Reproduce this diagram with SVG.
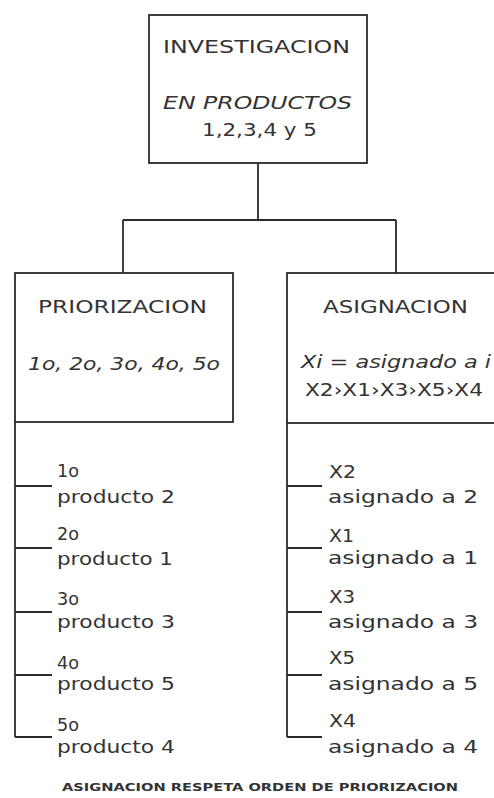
<svg xmlns="http://www.w3.org/2000/svg" width="494" height="798" viewBox="0 0 494 798">
<style>
.ln{fill:none;stroke:#2b2b2b;stroke-width:1.8}
.bx{fill:#fff;stroke:#2b2b2b;stroke-width:1.8}
text{font-family:"DejaVu Sans","Liberation Sans",Arial,sans-serif;fill:#333}
.t{font-size:18px}
.it{font-size:17px;font-style:italic}
.l{font-size:17px}
.f{font-size:11px;font-weight:bold}
</style>
<rect width="494" height="798" fill="#fff"/>
<g id="connectors">
<path class="ln" d="M258 163V220M123 220H396M123 220V273M396 220V273"/>
<path class="ln" d="M15 422V737M15 486H52M15 548H52M15 612H52M15 675H52M15 737H52"/>
<path class="ln" d="M287 423V737M287 486H322M287 548H322M287 612H322M287 675H322M287 737H322"/>
</g>
<g id="investigacion">
<rect class="bx" x="149" y="15" width="218" height="148"/>
<text class="t" x="163" y="53" textLength="187" lengthAdjust="spacingAndGlyphs">INVESTIGACION</text>
<text class="it" x="163" y="109" textLength="189" lengthAdjust="spacingAndGlyphs">EN PRODUCTOS</text>
<text class="l" x="202" y="136" textLength="115" lengthAdjust="spacingAndGlyphs">1,2,3,4 y 5</text>
</g>
<g id="priorizacion">
<rect class="bx" x="15" y="273" width="218" height="149"/>
<text class="t" x="38" y="313" textLength="169" lengthAdjust="spacingAndGlyphs">PRIORIZACION</text>
<text class="it" x="28" y="370" textLength="192" lengthAdjust="spacingAndGlyphs">1o, 2o, 3o, 4o, 5o</text>
</g>
<g id="asignacion">
<rect class="bx" x="287" y="273" width="212" height="150"/>
<text class="t" x="323" y="313" textLength="145" lengthAdjust="spacingAndGlyphs">ASIGNACION</text>
<text class="it" x="301" y="368" textLength="190" lengthAdjust="spacingAndGlyphs">Xi = asignado a i</text>
<text class="l" x="305" y="396" textLength="178" lengthAdjust="spacingAndGlyphs">X2›X1›X3›X5›X4</text>
</g>
<g id="prior-items">
<text class="l" x="57" y="477" textLength="22" lengthAdjust="spacingAndGlyphs">1o</text>
<text class="l" x="57" y="503" textLength="118" lengthAdjust="spacingAndGlyphs">producto 2</text>
<text class="l" x="57" y="540" textLength="22" lengthAdjust="spacingAndGlyphs">2o</text>
<text class="l" x="57" y="565" textLength="116" lengthAdjust="spacingAndGlyphs">producto 1</text>
<text class="l" x="57" y="605" textLength="22" lengthAdjust="spacingAndGlyphs">3o</text>
<text class="l" x="57" y="628" textLength="118" lengthAdjust="spacingAndGlyphs">producto 3</text>
<text class="l" x="57" y="669" textLength="22" lengthAdjust="spacingAndGlyphs">4o</text>
<text class="l" x="57" y="690" textLength="118" lengthAdjust="spacingAndGlyphs">producto 5</text>
<text class="l" x="57" y="731" textLength="22" lengthAdjust="spacingAndGlyphs">5o</text>
<text class="l" x="57" y="753" textLength="118" lengthAdjust="spacingAndGlyphs">producto 4</text>
</g>
<g id="asig-items">
<text class="l" x="329" y="478" textLength="27" lengthAdjust="spacingAndGlyphs">X2</text>
<text class="l" x="328" y="503" textLength="150" lengthAdjust="spacingAndGlyphs">asignado a 2</text>
<text class="l" x="329" y="542" textLength="25" lengthAdjust="spacingAndGlyphs">X1</text>
<text class="l" x="328" y="564" textLength="150" lengthAdjust="spacingAndGlyphs">asignado a 1</text>
<text class="l" x="329" y="603" textLength="26" lengthAdjust="spacingAndGlyphs">X3</text>
<text class="l" x="328" y="628" textLength="150" lengthAdjust="spacingAndGlyphs">asignado a 3</text>
<text class="l" x="329" y="664" textLength="26" lengthAdjust="spacingAndGlyphs">X5</text>
<text class="l" x="328" y="690" textLength="150" lengthAdjust="spacingAndGlyphs">asignado a 5</text>
<text class="l" x="329" y="727" textLength="27" lengthAdjust="spacingAndGlyphs">X4</text>
<text class="l" x="328" y="753" textLength="150" lengthAdjust="spacingAndGlyphs">asignado a 4</text>
</g>
<g id="footer">
<text class="f" x="62" y="791" textLength="396" lengthAdjust="spacingAndGlyphs">ASIGNACION RESPETA ORDEN DE PRIORIZACION</text>
</g>
</svg>
